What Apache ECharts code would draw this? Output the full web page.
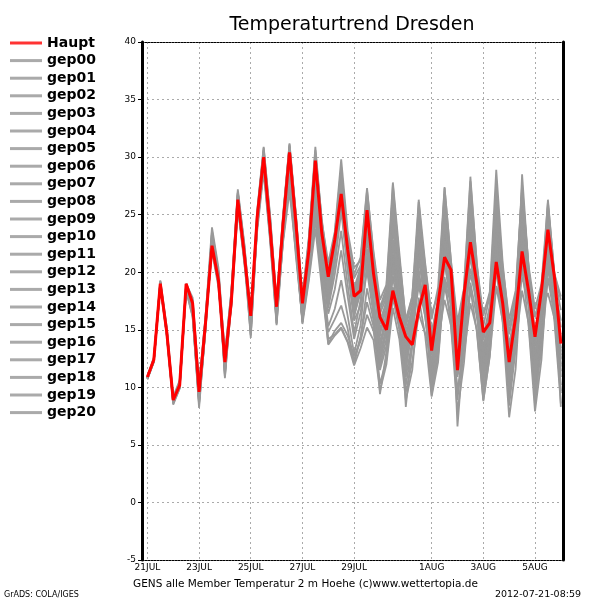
<!DOCTYPE html>
<html><head><meta charset="utf-8">
<script src="https://cdn.jsdelivr.net/npm/echarts@6/dist/echarts.min.js"></script>
<style>html,body{margin:0;padding:0;background:#fff}#c{width:600px;height:600px}</style>
</head><body><div id="c"></div>
<script>
const tickHours = [0, 48, 96, 144, 192, 264, 312, 360];
const tickLabels = ['21JUL','23JUL','25JUL','27JUL','29JUL','1AUG','3AUG','5AUG'];
const stepHours = 6;

const haupt = [10.9,12.4,19.0,14.8, 8.9,10.2,19.0,17.3, 9.6,15.6,22.3,19.3, 12.2,17.5,26.3,21.6,
 16.2,24.8,30.0,23.8, 17.0,24.2,30.4,24.2, 17.3,21.9,29.7,23.4, 19.6,22.8,26.8,22.0,
 17.9,18.4,25.4,19.9, 16.1,15.0,18.4,16.1, 14.4,13.7,16.7,18.9, 13.2,17.3,21.3,20.2,
 11.5,18.0,22.6,19.0, 14.8,15.6,20.9,17.3, 12.2,16.1,21.8,18.4, 14.4,18.4,23.7,19.6, 13.8];

const gep00 = [10.8,12.3,18.9,14.9, 8.8,10.3,18.8,17.0, 9.4,15.8,22.8,19.5, 12.0,17.8,26.6,21.9,
 15.8,24.5,29.6,23.5, 16.7,23.8,30.0,24.5, 17.0,22.4,29.2,22.8, 19.0,21.9,27.4,21.5,
 17.0,19.2,24.3,19.0, 14.8,16.2,22.5,17.6, 12.9,15.1,21.4,17.9, 13.8,16.6,23.9,18.7,
 13.0,16.2,24.8,18.2, 12.1,15.7,23.2,17.5, 11.6,15.9,24.1,18.0, 12.4,16.8,22.7,17.4, 12.0];
const gep01 = [10.9,12.5,19.2,14.6, 8.6,10.1,18.6,16.3, 8.2,15.2,23.6,20.1, 11.1,18.1,27.0,22.3,
 15.0,24.9,30.6,24.6, 16.1,24.6,31.0,24.9, 16.4,22.8,30.4,24.0, 18.2,21.0,26.1,20.2,
 15.8,17.1,22.9,17.8, 12.6,15.0,24.7,19.2, 11.3,16.4,25.6,19.8, 14.6,17.8,26.8,20.3,
 13.4,17.2,27.1,19.4, 11.2,15.3,25.4,18.6, 10.4,14.8,26.2,19.1, 12.8,16.5,24.9,18.3, 11.4];
const gep02 = [10.8,12.4,19.0,15.0, 8.9,10.4,18.9,17.6, 9.8,15.7,22.0,19.0, 12.4,17.4,26.0,21.2,
 16.4,24.2,29.4,23.2, 17.3,23.0,27.8,22.1, 16.0,19.8,25.2,19.6, 14.2,14.6,15.2,14.0,
 12.4,14.3,18.6,15.8, 11.8,14.2,21.3,16.9, 12.4,15.6,22.8,17.4, 10.8,14.9,22.1,16.8,
 9.6,13.8,21.7,16.5, 10.9,14.2,22.6,17.1, 9.1,13.9,23.4,17.8, 10.2,15.1,21.8,16.4, 9.7];
const gep03 = [10.7,12.2,18.8,14.7, 8.7,10.0,18.7,16.8, 9.1,15.4,23.1,19.9, 11.6,17.9,26.9,22.0,
 15.3,24.7,30.3,24.2, 16.5,24.3,30.8,23.9, 16.8,21.5,28.4,22.1, 17.4,20.6,25.3,20.4,
 16.3,18.2,25.9,20.6, 16.4,17.8,26.4,21.0, 14.8,16.9,20.7,19.2, 13.1,15.8,19.4,18.1,
 14.5,16.9,20.3,17.7, 13.6,15.4,18.8,16.6, 13.9,16.3,19.6,17.2, 15.1,16.6,18.2,16.0, 14.6];
const gep04 = [10.9,12.6,19.3,15.2, 9.2,10.6,19.0,17.8, 10.3,16.2,23.9,20.4, 12.8,18.4,27.2,22.5,
 16.3,25.4,30.9,24.9, 17.5,25.0,31.2,25.0, 17.9,23.1,30.9,24.4, 20.8,23.5,29.8,23.6,
 20.4,21.0,27.1,21.8, 17.6,18.9,27.8,21.7, 15.6,17.9,26.3,20.8, 15.9,18.7,27.4,20.9,
 15.7,18.6,28.3,20.6, 16.2,18.3,28.9,20.8, 15.3,18.0,27.6,20.5, 14.7,17.9,26.3,19.8, 17.6];
const gep05 = [10.8,12.3,19.1,14.8, 8.8,10.2,18.5,16.6, 8.9,15.0,22.6,19.4, 11.3,17.2,25.8,21.0,
 14.6,23.9,29.0,22.9, 15.6,22.9,28.6,22.6, 15.7,21.0,27.0,21.4, 16.9,19.8,23.6,18.9,
 14.7,17.6,21.4,16.9, 9.4,13.1,18.7,15.2, 10.2,13.5,20.3,16.1, 12.2,15.3,24.1,18.4,
 8.9,14.5,23.5,17.6, 9.6,13.7,24.3,17.8, 8.4,13.3,22.9,16.9, 9.5,14.6,23.3,17.2, 10.2];
const gep06 = [10.8,12.4,18.9,14.6, 8.7,10.1,18.7,16.9, 9.3,15.3,22.4,19.1, 11.9,17.6,26.1,21.5,
 15.9,24.0,29.2,23.0, 16.3,22.6,27.0,21.7, 15.7,19.6,24.6,19.3, 13.8,14.9,15.6,14.5,
 12.7,14.0,16.3,14.9, 11.5,13.6,19.7,15.8, 10.9,14.0,21.6,16.8, 11.6,15.1,23.4,17.6,
 10.9,14.6,25.7,18.7, 11.8,15.5,26.4,19.0, 12.3,16.0,25.8,18.6, 11.0,15.7,24.4,18.4, 12.8];
const gep07 = [10.9,12.4,19.0,14.9, 8.9,10.3,18.9,17.1, 9.7,15.9,22.1,19.2, 12.3,17.3,25.9,21.3,
 16.0,24.3,29.9,23.6, 16.9,24.0,29.8,23.9, 17.4,22.0,29.1,23.2, 19.4,22.6,26.5,21.9,
 18.4,20.1,23.4,18.6, 15.1,16.7,20.9,17.9, 14.7,16.3,19.1,17.0, 12.8,16.0,22.8,18.9,
 12.3,17.6,21.4,17.9, 14.1,16.8,21.7,17.6, 13.0,16.7,22.4,18.3, 13.6,17.4,21.9,18.7, 15.2];
const gep08 = [10.7,12.3,19.1,14.6, 8.6,9.9,18.6,16.4, 8.5,15.1,23.3,19.8, 10.9,17.7,26.7,22.1,
 14.5,24.5,30.2,24.0, 15.8,24.1,30.6,24.2, 16.2,22.1,29.6,23.6, 17.8,22.0,28.5,22.9,
 17.6,19.6,26.7,20.9, 13.2,16.3,25.1,19.4, 8.3,13.8,24.5,19.4, 10.1,15.1,25.9,19.9,
 6.6,13.9,25.2,19.2, 10.7,15.9,27.6,19.8, 9.8,15.2,28.5,20.4, 8.4,14.2,25.8,19.3, 8.3];
const gep09 = [10.8,12.5,19.2,15.1, 9.0,10.5,18.7,17.4, 10.1,15.9,21.8,18.7, 12.7,17.0,25.6,20.8,
 15.7,23.6,28.7,22.7, 15.4,22.8,27.9,21.3, 15.9,20.4,26.5,20.6, 16.4,18.5,21.9,17.9,
 14.2,16.5,20.1,16.3, 12.9,15.2,21.6,17.4, 12.6,14.7,19.6,16.8, 9.6,12.8,18.8,16.2,
 11.6,13.6,19.1,16.1, 12.6,14.7,20.2,16.9, 12.0,15.0,21.2,17.4, 13.0,15.8,20.3,16.9, 13.4];
const gep10 = [10.8,12.3,18.8,14.7, 8.8,10.2,18.6,16.7, 9.0,15.5,22.5,19.3, 11.7,17.6,26.2,21.4,
 15.5,24.4,29.7,23.8, 16.6,23.5,28.9,22.8, 16.1,20.2,26.1,20.1, 14.8,15.9,17.1,15.1,
 12.0,14.4,17.4,15.3, 10.3,12.4,17.8,15.0, 9.6,12.2,16.4,14.7, 12.3,15.0,20.9,17.3,
 11.1,14.3,22.9,17.0, 9.3,13.3,23.6,17.7, 10.8,14.5,24.6,18.1, 12.1,15.3,23.1,17.7, 11.8];
const gep11 = [10.9,12.4,19.1,15.0, 8.9,10.4,19.0,17.5, 10.0,16.1,22.9,19.8, 12.5,18.2,26.8,22.2,
 16.1,25.0,30.5,24.5, 17.2,24.7,30.9,24.7, 17.6,22.9,30.1,24.6, 20.1,23.1,28.2,22.6,
 19.5,20.6,24.8,20.1, 16.9,18.0,23.6,19.8, 15.3,17.4,23.9,20.3, 16.4,18.1,21.9,19.5,
 15.2,17.9,23.8,19.9, 14.4,17.1,25.1,19.4, 14.6,17.6,26.9,20.2, 16.1,18.6,25.2,19.7, 16.7];
const gep12 = [10.7,12.2,18.9,14.5, 8.5,9.9,18.4,16.1, 8.6,15.0,22.9,19.6, 10.8,17.5,26.4,21.8,
 14.3,24.1,29.8,23.7, 15.5,23.7,29.9,23.4, 15.6,21.5,28.8,22.6, 17.1,20.9,27.3,21.6,
 16.6,18.9,26.2,20.4, 13.8,16.4,27.6,20.9, 12.1,16.2,26.1,19.8, 9.3,13.6,25.3,19.4,
 12.4,16.4,26.4,19.6, 13.2,16.3,23.9,18.2, 11.9,16.5,25.3,19.3, 10.6,15.6,25.7,19.6, 10.9];
const gep13 = [10.8,12.4,19.0,14.8, 8.8,10.2,18.8,16.9, 9.5,15.6,22.2,19.1, 12.1,17.3,26.0,21.4,
 15.9,24.6,30.1,23.9, 17.1,24.4,30.3,24.4, 17.1,22.6,29.8,23.8, 18.8,22.3,28.0,22.4,
 18.3,19.8,23.7,19.3, 15.5,17.1,22.8,18.3, 14.0,16.0,21.2,18.0, 13.9,15.9,19.3,17.2,
 14.2,16.4,19.8,17.5, 16.6,17.7,22.3,18.6, 14.8,17.1,20.8,17.9, 16.2,17.8,21.2,18.2, 14.2];
const gep14 = [10.8,12.3,19.1,14.9, 8.9,10.3,18.9,17.3, 9.9,15.7,22.1,19.0, 12.6,17.1,25.7,21.1,
 16.5,24.0,29.1,23.1, 16.0,23.3,29.3,23.2, 16.6,21.8,28.1,22.0, 17.9,21.6,26.3,21.2,
 17.2,19.4,25.0,19.9, 16.7,18.3,24.2,19.5, 13.3,15.7,22.2,18.4, 11.9,14.4,21.0,17.1,
 12.8,15.5,22.4,17.9, 12.4,15.9,24.7,19.1, 12.7,16.2,23.6,18.5, 13.9,17.1,24.8,18.9, 13.1];
const gep15 = [10.8,12.4,18.8,14.6, 8.7,10.0,18.4,16.2, 8.8,15.2,22.6,19.2, 11.5,17.7,26.3,21.6,
 15.6,24.5,29.5,23.4, 16.4,23.2,28.3,22.5, 15.5,19.3,23.8,18.7, 13.7,14.5,15.1,13.9,
 11.9,13.4,15.2,14.1, 9.7,12.0,16.9,14.2, 8.9,11.5,17.8,14.5, 9.2,12.2,19.6,15.3,
 7.9,12.1,18.6,14.8, 8.9,12.7,20.3,15.6, 7.4,11.6,20.6,15.4, 7.9,12.4,20.9,15.8, 8.6];
const gep16 = [10.9,12.5,19.1,15.0, 9.0,10.4,18.8,17.2, 9.9,16.0,23.4,20.0, 12.9,18.3,26.9,22.4,
 16.3,25.2,30.8,24.8, 17.4,24.8,31.1,24.8, 17.7,22.7,30.6,24.3, 20.2,23.3,29.1,23.0,
 19.8,21.3,27.3,21.6, 16.9,18.7,26.9,21.2, 15.9,17.9,25.2,20.6, 14.3,17.5,27.3,21.0,
 14.6,18.4,27.9,20.8, 15.3,18.0,27.3,20.4, 15.9,18.4,27.2,20.6, 16.8,19.0,26.1,19.9, 17.9];
const gep17 = [10.8,12.3,18.9,14.8, 8.7,10.1,18.6,16.5, 8.8,15.3,22.7,19.5, 11.4,17.5,26.5,21.8,
 14.9,24.2,29.3,23.3, 16.2,23.6,29.4,23.5, 16.3,21.2,27.6,21.8, 18.1,21.2,25.8,20.7,
 16.1,18.6,22.0,17.6, 13.7,15.5,20.4,16.6, 12.9,15.0,18.8,16.2, 11.1,14.1,17.6,15.4,
 9.5,12.9,17.3,15.0, 8.8,12.8,18.7,15.8, 10.5,13.7,18.4,15.6, 9.1,13.4,19.5,16.2, 9.5];
const gep18 = [10.9,12.4,19.0,14.7, 8.8,10.2,18.8,17.0, 9.4,15.4,22.4,19.4, 12.2,17.6,26.3,21.7,
 15.8,24.8,30.4,24.3, 17.0,24.5,30.7,24.2, 17.2,22.3,29.4,23.4, 19.2,22.2,27.7,22.3,
 18.6,20.4,26.1,20.9, 15.8,17.4,25.6,20.0, 14.2,16.8,24.8,19.6, 13.5,16.2,24.7,19.6,
 12.6,16.8,26.1,20.0, 14.1,16.6,26.2,19.7, 13.3,16.8,24.3,19.0, 14.3,17.6,23.7,18.8, 15.8];
const gep19 = [10.8,12.4,19.1,14.9, 8.9,10.3,18.7,16.8, 9.2,15.5,22.6,19.4, 11.8,17.8,26.6,21.9,
 15.4,24.3,29.9,23.8, 16.6,24.2,30.1,24.0, 16.9,21.9,28.9,23.0, 18.5,21.8,27.0,21.8,
 17.7,20.2,25.5,20.3, 14.4,17.7,24.0,19.1, 13.7,16.5,22.6,19.0, 14.9,17.1,24.6,19.2,
 13.6,16.4,21.8,18.5, 13.0,16.1,21.3,17.3, 11.1,15.4,22.9,18.2, 12.6,16.2,22.3,17.9, 12.4];
const gep20 = [10.8,12.3,19.0,14.8, 8.8,10.2,18.7,16.6, 9.1,15.5,22.7,19.3, 11.8,17.6,26.4,21.5,
 15.1,24.2,29.6,23.5, 16.0,22.9,28.1,21.9, 15.9,19.9,25.6,19.9, 15.3,16.8,19.3,16.2,
 12.9,15.4,20.8,16.7, 12.2,14.8,22.8,17.7, 11.7,14.9,23.6,18.2, 10.3,13.5,24.9,18.6,
 11.9,15.0,24.1,18.3, 10.4,14.3,22.8,17.6, 11.4,15.1,23.8,18.1, 11.7,16.0,24.1,18.3, 12.5];

const memberNames = ['gep00','gep01','gep02','gep03','gep04','gep05','gep06','gep07','gep08','gep09','gep10',
  'gep11','gep12','gep13','gep14','gep15','gep16','gep17','gep18','gep19','gep20'];
const members = [gep00,gep01,gep02,gep03,gep04,gep05,gep06,gep07,gep08,gep09,gep10,
  gep11,gep12,gep13,gep14,gep15,gep16,gep17,gep18,gep19,gep20];

const toPairs = arr => arr.map((v, i) => [i * stepHours, v]);
const FONT = 'DejaVu Sans';
const GRAY = '#999999';

const series = members.map((m, k) => ({
  name: memberNames[k], type: 'line', data: toPairs(m), symbol: 'none',
  lineStyle: { color: GRAY, width: 1.8 }, itemStyle: { color: '#aaaaaa' }, z: 2, silent: true
}));
series.push({
  name: 'Haupt', type: 'line', data: toPairs(haupt), symbol: 'none',
  lineStyle: { color: '#ff0000', width: 3 }, itemStyle: { color: '#ff3333' }, z: 5, silent: true
});

const chart = echarts.init(document.getElementById('c'), null, { renderer: 'canvas' });
chart.setOption({
  animation: false,
  backgroundColor: '#fff',
  grid: { left: 142, right: 37, top: 42, bottom: 40, containLabel: false },
  legend: {
    orient: 'vertical', left: 10, top: 36, padding: 0,
    data: ['Haupt'].concat(memberNames),
    icon: 'rect',
    itemWidth: 32, itemHeight: 3, itemGap: 3.6,
    textStyle: { fontFamily: FONT, fontSize: 14, fontWeight: 'bold', color: '#000', lineHeight: 14 },
    selectedMode: false
  },
  xAxis: [{
    type: 'value', min: -5, max: 386, position: 'bottom',
    axisLine: { show: true, onZero: false, lineStyle: { color: '#000', width: 1, type: [2, 1] } },
    axisTick: { show: false, customValues: tickHours },
    axisLabel: { customValues: tickHours, fontFamily: FONT, fontSize: 9, color: '#000', margin: 3,
      formatter: v => { const j = tickHours.indexOf(v); return j >= 0 ? tickLabels[j] : ''; } },
    splitLine: { show: true, lineStyle: { color: '#aaaaaa', width: 1, type: [2, 3] } }
  }, {
    type: 'value', min: -5, max: 386, position: 'top',
    axisLine: { show: true, onZero: false, lineStyle: { color: '#000', width: 1, type: [2, 1] } },
    axisTick: { show: false }, axisLabel: { show: false }, splitLine: { show: false }
  }],
  yAxis: [{
    type: 'value', min: -5, max: 40, interval: 5, position: 'left',
    axisLine: { show: true, onZero: false, lineStyle: { color: '#000', width: 3 } },
    axisTick: { show: true, length: 4, lineStyle: { color: '#000' } },
    axisLabel: { fontFamily: FONT, fontSize: 9, color: '#000', margin: 6 },
    splitLine: { show: true, lineStyle: { color: '#aaaaaa', width: 1, type: [2, 3] } }
  }, {
    type: 'value', min: -5, max: 40, interval: 5, position: 'right',
    axisLine: { show: true, onZero: false, lineStyle: { color: '#000', width: 3 } },
    axisTick: { show: false }, axisLabel: { show: false }, splitLine: { show: false }
  }],
  series: series,
  graphic: [
    { type: 'text', style: { text: 'Temperaturtrend Dresden', x: 352, y: 25,
      align: 'center', verticalAlign: 'middle', fontFamily: FONT, fontSize: 19, fill: '#000' } },
    { type: 'text', style: { text: 'GENS alle Member Temperatur 2 m Hoehe (c)www.wettertopia.de', x: 133, y: 584,
      align: 'left', verticalAlign: 'middle', fontFamily: FONT, fontSize: 10.5, fill: '#000' } },
    { type: 'text', style: { text: 'GrADS: COLA/IGES', x: 4, y: 595,
      align: 'left', verticalAlign: 'middle', fontFamily: FONT, fontSize: 8, fill: '#000' } },
    { type: 'text', style: { text: '2012-07-21-08:59', x: 581, y: 595,
      align: 'right', verticalAlign: 'middle', fontFamily: FONT, fontSize: 9.5, fill: '#000' } }
  ]
});
</script></body></html>
